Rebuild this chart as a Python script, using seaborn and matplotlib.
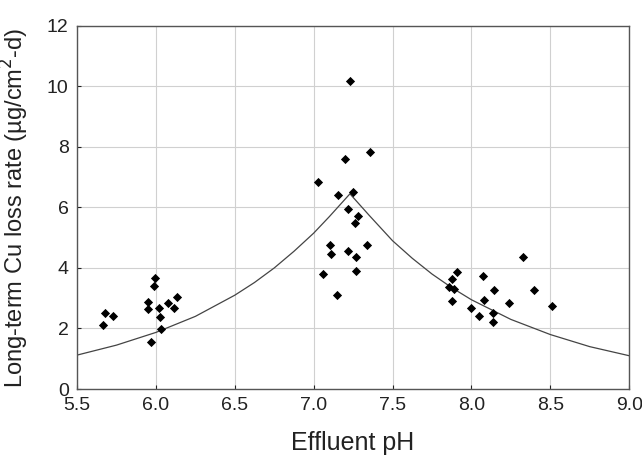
import matplotlib
matplotlib.use("Agg")
import matplotlib.pyplot as plt
import seaborn as sns
import pandas as pd

# measured points (effluent pH, Cu loss rate)
ph = [5.665, 5.678, 5.73, 5.948, 5.952, 5.969, 5.988, 5.995, 6.022, 6.026, 6.033, 6.079, 6.115, 6.132,
      7.030, 7.058, 7.106, 7.113, 7.149, 7.153, 7.199, 7.216, 7.220, 7.231, 7.248, 7.263, 7.269, 7.269,
      7.278, 7.339, 7.354,
      7.855, 7.874, 7.876, 7.891, 7.907, 7.996, 8.051, 8.072, 8.081, 8.134, 8.134, 8.146, 8.241, 8.324,
      8.396, 8.514]
cu_rate = [2.12, 2.50, 2.41, 2.63, 2.87, 1.55, 3.40, 3.67, 2.67, 2.39, 1.97, 2.85, 2.67, 3.03,
           6.83, 3.79, 4.77, 4.47, 3.10, 6.41, 7.60, 5.95, 4.56, 10.19, 6.51, 5.50, 4.35, 3.90,
           5.72, 4.76, 7.83,
           3.36, 2.90, 3.64, 3.31, 3.86, 2.67, 2.40, 3.74, 2.93, 2.52, 2.23, 3.26, 2.84, 4.36,
           3.26, 2.73]

# fitted curve
fit_ph = [5.5, 5.75, 6.0, 6.25, 6.5, 6.625, 6.75, 6.875, 7.0, 7.1, 7.23,
          7.35, 7.5, 7.625, 7.75, 7.875, 8.0, 8.25, 8.5, 8.75, 9.0]
fit_rate = [1.12, 1.45, 1.87, 2.40, 3.10, 3.52, 4.00, 4.55, 5.15, 5.70, 6.45,
            5.75, 4.90, 4.32, 3.80, 3.35, 2.95, 2.30, 1.80, 1.40, 1.10]

pts = pd.DataFrame({"ph": ph, "rate": cu_rate})
fit = pd.DataFrame({"ph": fit_ph, "rate": fit_rate})

sns.set_style("whitegrid", {"grid.color": "#d0d0d0", "axes.edgecolor": "#555555"})
plt.rcParams["font.family"] = ["Liberation Sans", "DejaVu Sans"]

fig = plt.figure(figsize=(6.42, 4.62), dpi=100)
ax = fig.add_axes([0.12, 0.158, 0.86, 0.786])

sns.lineplot(data=fit, x="ph", y="rate", color="#444444", linewidth=0.9, ax=ax)
sns.scatterplot(data=pts, x="ph", y="rate", marker="D", s=22, color="black", edgecolor="black",
                linewidth=0, ax=ax, zorder=3)

ax.set_xlim(5.5, 9.0)
ax.set_ylim(0, 12)
ax.set_xticks([5.5, 6.0, 6.5, 7.0, 7.5, 8.0, 8.5, 9.0])
ax.set_xticklabels(["5.5", "6.0", "6.5", "7.0", "7.5", "8.0", "8.5", "9.0"])
ax.set_yticks([0, 2, 4, 6, 8, 10, 12])
ax.tick_params(axis="both", labelsize=14, colors="#222222", direction="in", length=3,
               bottom=True, left=True)
ax.tick_params(axis="x", pad=6)
ax.tick_params(axis="y", pad=6)
for s in ax.spines.values():
    s.set_color("#555555")
    s.set_linewidth(1.0)

ax.set_xlabel("Effluent pH", fontsize=18, color="#222222")
ax.set_ylabel("Long-term Cu loss rate (µg/cm$^{2}$-d)", fontsize=17, color="#222222")
ax.xaxis.set_label_coords(0.5, -0.115)
ax.yaxis.set_label_coords(-0.083, 0.5)

fig.savefig("out.png", dpi=100)
plt.close(fig)
